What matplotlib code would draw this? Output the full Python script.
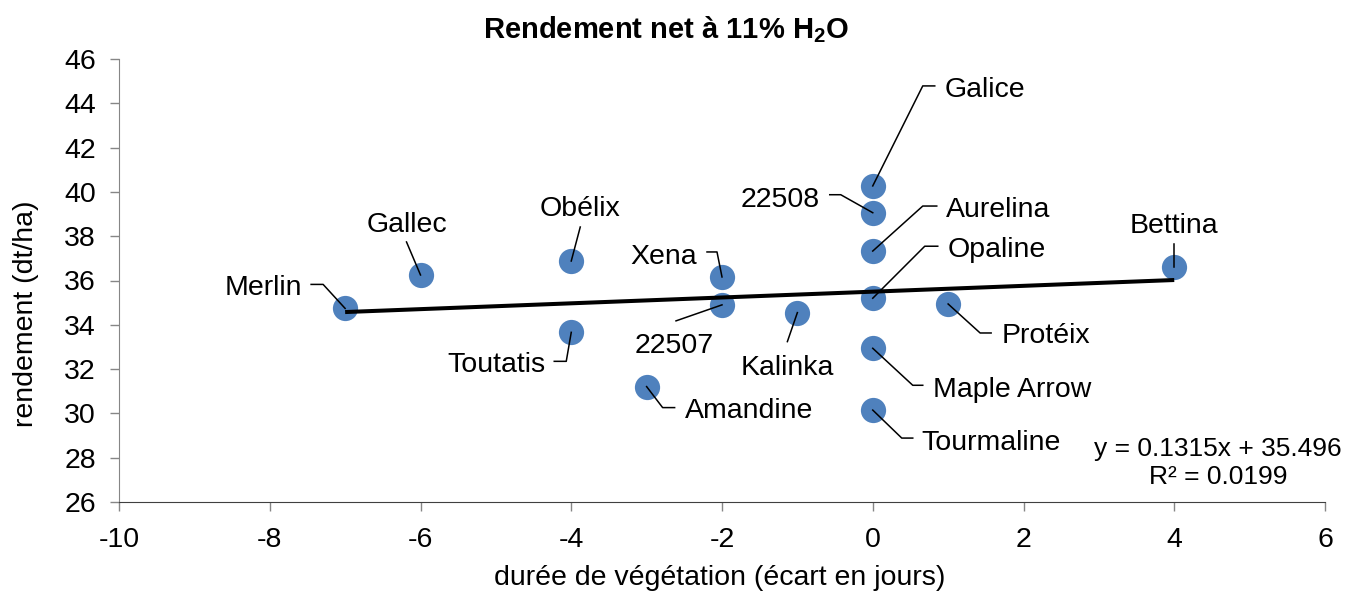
import matplotlib
matplotlib.use("Agg")
import matplotlib.pyplot as plt
from matplotlib.lines import Line2D
from matplotlib.transforms import IdentityTransform

plt.rcParams['font.family'] = ['Liberation Sans', 'DejaVu Sans']
plt.rcParams['mathtext.fontset'] = 'custom'
plt.rcParams['mathtext.rm'] = 'Liberation Sans'
plt.rcParams['mathtext.bf'] = 'Liberation Sans:bold'
plt.rcParams['axes.unicode_minus'] = False

# données
varietes = ['Merlin', 'Gallec', 'Obélix', 'Toutatis', 'Amandine', 'Xena', '22507', 'Kalinka',
            'Galice', '22508', 'Aurelina', 'Opaline', 'Maple Arrow', 'Tourmaline', 'Protéix', 'Bettina']
ecart_jours = [-7, -6, -4, -4, -3, -2, -2, -1, 0, 0, 0, 0, 0, 0, 1, 4]
rendement = [34.74, 36.25, 36.88, 33.66, 31.21, 36.16, 34.9, 34.55,
             40.27, 39.06, 37.33, 35.2, 32.94, 30.15, 34.94, 36.6]
pente, ordonnee, r2 = 0.1315, 35.496, 0.0199

# position des étiquettes (pixels par rapport au point) : texte dx, dy, alignement, ligne de rappel
etiquettes = {
    'Merlin':      (-43, 23, 'right',  [(-34, 24), (-22, 24), (0, 0)]),
    'Gallec':      (-14, 53, 'center', [(-14, 33), (0, 0)]),
    'Obélix':      (9, 55, 'center',   [(9, 34), (0, 0)]),
    'Toutatis':    (-26, -30, 'right', [(-17, -29), (-5, -29), (0, 0)]),
    'Amandine':    (38, -21, 'left',   [(0, 0), (16, -21), (28, -21)]),
    'Xena':        (-25, 23, 'right',  [(-15, 25), (-5, 25), (0, 0)]),
    '22507':       (-48, -38, 'center', [(-46, -16), (0, 0)]),
    'Kalinka':     (-10, -52, 'center', [(-10, -29), (0, 0)]),
    'Galice':      (72, 99, 'left',    [(62, 100), (50, 100), (0, 0)]),
    '22508':       (-53, 16, 'right',  [(-43, 18), (-32, 18), (0, 0)]),
    'Aurelina':    (73, 44, 'left',    [(64, 45), (50, 45), (0, 0)]),
    'Opaline':     (75, 51, 'left',    [(65, 52), (52, 52), (0, 0)]),
    'Maple Arrow': (60, -39, 'left',   [(0, 0), (40, -37), (50, -37)]),
    'Tourmaline':  (49, -30, 'left',   [(0, 0), (29, -28), (40, -28)]),
    'Protéix':     (53, -29, 'left',   [(0, 0), (32, -29), (43, -29)]),
    'Bettina':     (0, 44, 'center',   [(0, 23), (0, 0)]),
}

W, H = 1347, 595
fig = plt.figure(figsize=(W / 100, H / 100), dpi=100)
fig.set_facecolor("white")
ax = fig.add_axes([119 / W, 1 - 502 / H, 1206 / W, 443 / H])

ax.set_xlim(-10, 6)
ax.set_ylim(26, 46)
ax.set_xticks(range(-10, 7, 2))
ax.set_yticks(range(26, 47, 2))

for s in ['top', 'right']:
    ax.spines[s].set_visible(False)
ax.spines['left'].set_color('#868686')
ax.spines['bottom'].set_color('#404040')
ax.tick_params(axis='both', direction='out', length=6.7, width=1, color='#868686', labelsize=20.5)
ax.tick_params(axis='x', pad=11)
ax.tick_params(axis='y', pad=10)

ax.scatter(ecart_jours, rendement, s=330, color='#4F81BD', zorder=2, linewidths=0)

# courbe de tendance
xt = [min(ecart_jours), max(ecart_jours)]
yt = [pente * v + ordonnee for v in xt]
ax.plot(xt, yt, color='black', lw=2.9, zorder=3, solid_capstyle='butt')

for nom, x, y in zip(varietes, ecart_jours, rendement):
    dx, dy, ha, rappel = etiquettes[nom]
    ax.annotate(nom, xy=(x, y), xytext=(dx, dy), textcoords='offset pixels',
                ha=ha, va='center_baseline', fontsize=20.5)
    bx, by = ax.transData.transform((x, y))
    fig.add_artist(Line2D([bx + p[0] for p in rappel], [by + p[1] for p in rappel],
                          transform=IdentityTransform(), color='black', lw=1.1, zorder=4))

fig.text(1218 / W, 1 - 463 / H,
         'y = %.4fx + %.3f\nR² = %.4f' % (pente, ordonnee, r2),
         ha='center', va='center', multialignment='center', fontsize=19, linespacing=1.2)

fig.text(666 / W, 1 - 30 / H, r'Rendement net à 11% H$_\mathbf{2}$O',
         ha='center', va='center', fontsize=21, fontweight='bold')
fig.text(26 / W, 1 - 314 / H, 'rendement (dt/ha)', rotation=90,
         ha='center', va='center', fontsize=20.5)
fig.text(720 / W, 1 - 578 / H, 'durée de végétation (écart en jours)',
         ha='center', va='center', fontsize=20.5)

fig.savefig('out.png', dpi=100, facecolor='white')
